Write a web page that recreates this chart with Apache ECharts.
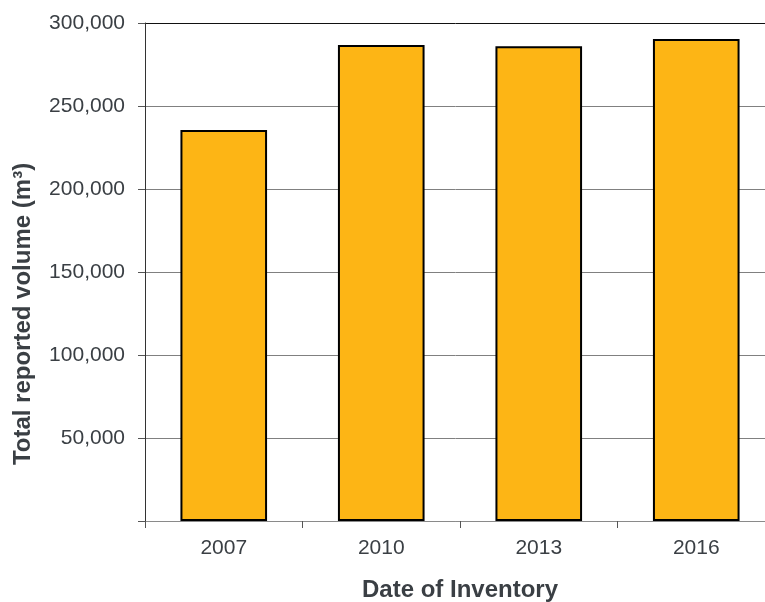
<!DOCTYPE html>
<html>
<head>
<meta charset="utf-8">
<script src="https://cdn.jsdelivr.net/npm/echarts@6/dist/echarts.min.js"></script>
<style>
  html, body { margin: 0; padding: 0; background: #fff; }
  #chart { width: 765px; height: 602px; }
</style>
</head>
<body>
<div id="chart"></div>
<script>
// Inventory years and total reported volume per inventory (m³)
const years = ['2007', '2010', '2013', '2016'];
const volumes = [235500, 286800, 286000, 290400];
const yTitle = 'Total reported volume (m³)';

// Gridline colours from 0 up to 300,000; the top line is drawn darker
const gridColors = ['#808080', '#808080', '#808080', '#808080', '#808080', '#808080', '#111111'];

const chart = echarts.init(document.getElementById('chart'), null, { renderer: 'canvas' });

const fontFamily = 'Liberation Sans, Arial, sans-serif';

chart.setOption({
  animation: false,
  backgroundColor: '#ffffff',
  grid: { left: 145, right: -10, top: 23, bottom: 81, containLabel: false, outerBoundsMode: 'none' },
  // Vertical axis title, placed a little below the plot's middle
  graphic: [{
    type: 'text',
    x: 23,
    y: 314,
    rotation: Math.PI / 2,
    style: {
      text: yTitle,
      font: 'bold 24px ' + fontFamily,
      fill: '#3a3f44',
      align: 'center',
      verticalAlign: 'middle'
    }
  }],
  xAxis: {
    type: 'category',
    data: years,
    name: 'Date of Inventory',
    nameLocation: 'middle',
    nameGap: 57,
    nameTextStyle: { fontFamily, fontSize: 24, fontWeight: 'bold', color: '#3a3f44' },
    axisLine: { lineStyle: { color: '#8a8a8a', width: 1 } },
    axisTick: { show: true, alignWithLabel: false, length: 7, lineStyle: { color: '#555' } },
    axisLabel: { fontFamily, fontSize: 21, color: '#3a3f44', margin: 17 }
  },
  yAxis: {
    type: 'value',
    min: 0,
    max: 300000,
    interval: 50000,
    axisLine: { show: true, lineStyle: { color: '#333', width: 1 } },
    axisTick: { show: true, length: 7, lineStyle: { color: '#555' } },
    axisLabel: {
      fontFamily, fontSize: 21, color: '#3a3f44', margin: 20,
      formatter: v => v === 0 ? '' : v.toLocaleString('en-US')
    },
    splitLine: { show: true, lineStyle: { color: gridColors, width: 1 } }
  },
  series: [{
    type: 'bar',
    data: volumes,
    barWidth: '55%',
    itemStyle: { color: '#FDB515', borderColor: '#000', borderWidth: 2 }
  }]
});
</script>
</body>
</html>
